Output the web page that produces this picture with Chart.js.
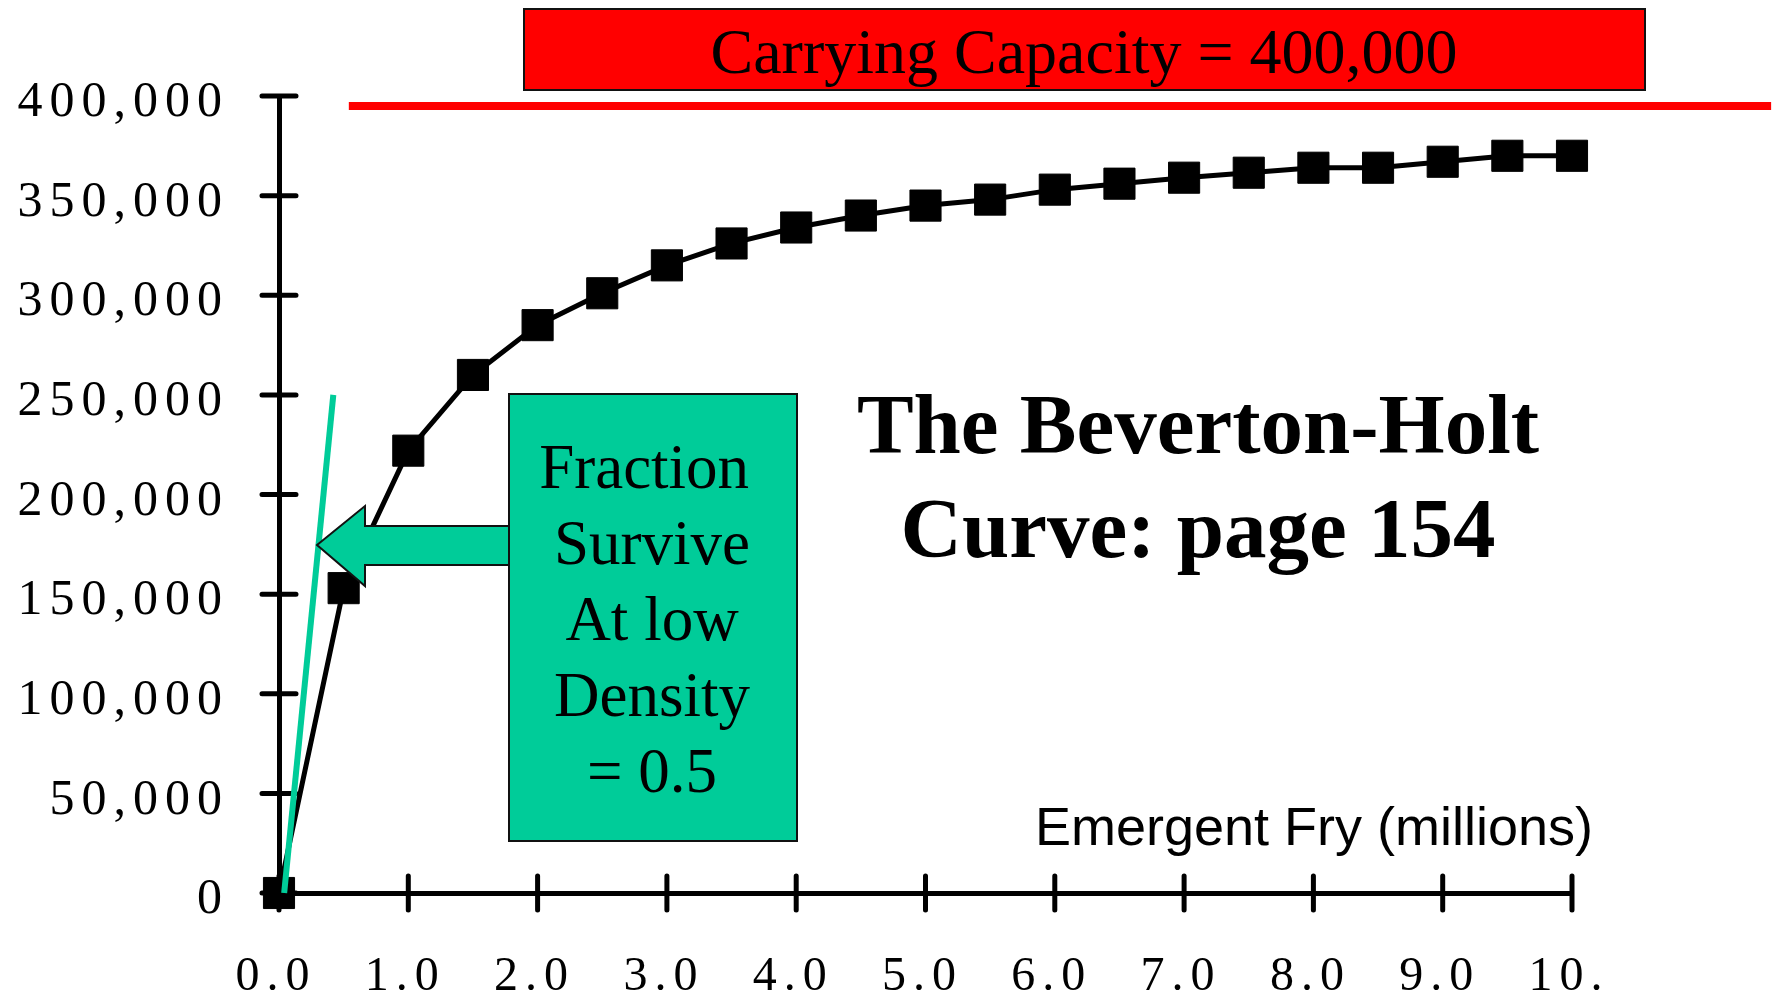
<!DOCTYPE html>
<html>
<head>
<meta charset="utf-8">
<title>The Beverton-Holt Curve</title>
<script src="https://cdn.jsdelivr.net/npm/chart.js@4.4.1/dist/chart.umd.min.js"></script>
<style>
  html, body { margin: 0; padding: 0; background: #fff; }
  #chartContainer { width: 1778px; height: 1000px; }
</style>
</head>
<body>
<div id="chartContainer"><canvas id="myChart" width="1778" height="1000"></canvas></div>
<script>
// Emergent fry (millions) vs recruits
const fryMillions = [0, 0.5, 1.0, 1.5, 2.0, 2.5, 3.0, 3.5, 4.0, 4.5, 5.0,
                     5.5, 6.0, 6.5, 7.0, 7.5, 8.0, 8.5, 9.0, 9.5, 10.0];
const recruits = [0, 153000, 222000, 260000, 285000, 301000, 315000, 326000, 334000, 340000, 345000,
                  348000, 353000, 356000, 359000, 361500, 364000, 364000, 367000, 370000, 370000];

// slope line "fraction survive at low density"
const slopeX = [0.04, 0.42];
const slopeY = [0, 250000];

// carrying capacity line (drawn a little under 400,000 on the slide)
const capacityX = [0.54, 11.54];
const capacityY = [395000, 395000];

const xTickLabels = ['0.0', '1.0', '2.0', '3.0', '4.0', '5.0', '6.0', '7.0', '8.0', '9.0', '10.'];
const yTickLabels = ['0', '50,000', '100,000', '150,000', '200,000', '250,000', '300,000', '350,000', '400,000'];

const boxLines = ['Fraction ', 'Survive', 'At low', 'Density', '= 0.5'];

const SERIF = "'Liberation Serif', 'Times New Roman', serif";
const SANS = "'Liberation Sans', Arial, sans-serif";
const GREEN = '#00CC99';

const toPoints = (xs, ys) => xs.map((x, i) => ({ x: x, y: ys[i] }));

// tick labels on the slide are letter-spaced
const spacedTicks = {
    id: 'spacedTicks',
    beforeDraw(chart) { chart.ctx.letterSpacing = '7px'; },
    beforeDatasetsDraw(chart) { chart.ctx.letterSpacing = '0px'; }
};

// tick marks that cross the axis line
const crossTicks = {
    id: 'crossTicks',
    beforeDatasetsDraw(chart) {
        const { ctx, chartArea, scales: { x, y } } = chart;
        ctx.save();
        ctx.strokeStyle = '#000';
        ctx.lineWidth = 5;
        ctx.lineCap = 'round';
        ctx.beginPath();
        y.ticks.forEach(t => {
            const py = y.getPixelForValue(t.value);
            ctx.moveTo(chartArea.left - 17, py);
            ctx.lineTo(chartArea.left + 17, py);
        });
        x.ticks.forEach(t => {
            const px = x.getPixelForValue(t.value);
            ctx.moveTo(px, chartArea.bottom - 17);
            ctx.lineTo(px, chartArea.bottom + 17);
        });
        ctx.stroke();
        ctx.restore();
    }
};

const annotations = {
    id: 'annotations',
    afterDraw(chart) {
        const ctx = chart.ctx;
        ctx.save();
        ctx.letterSpacing = '0px';

        // carrying capacity banner
        ctx.fillStyle = '#FF0000';
        ctx.strokeStyle = '#111';
        ctx.lineWidth = 2;
        ctx.fillRect(524, 9, 1121, 81);
        ctx.strokeRect(524, 9, 1121, 81);
        ctx.fillStyle = '#000';
        ctx.textAlign = 'center';
        ctx.textBaseline = 'alphabetic';
        ctx.font = '64px ' + SERIF;
        ctx.fillText('Carrying Capacity = 400,000', 1084, 73);

        // title
        ctx.font = 'bold 85px ' + SERIF;
        ctx.fillText('The Beverton-Holt', 1198, 453);
        ctx.fillText('Curve: page 154', 1198, 557);

        // arrow to the slope line
        ctx.beginPath();
        ctx.moveTo(510, 526);
        ctx.lineTo(365, 526);
        ctx.lineTo(365, 506);
        ctx.lineTo(317, 545);
        ctx.lineTo(365, 586);
        ctx.lineTo(365, 565);
        ctx.lineTo(510, 565);
        ctx.closePath();
        ctx.fillStyle = GREEN;
        ctx.fill();
        ctx.stroke();

        // green note box
        ctx.fillRect(509, 394, 288, 447);
        ctx.strokeRect(509, 394, 288, 447);
        ctx.fillStyle = '#000';
        ctx.font = '63px ' + SERIF;
        boxLines.forEach((line, i) => ctx.fillText(line, 652, 488 + i * 76));

        // x axis title
        ctx.textAlign = 'right';
        ctx.font = '54px ' + SANS;
        ctx.fillText('Emergent Fry (millions)', 1593, 845);

        ctx.restore();
    }
};

function setupChart() {
    const ctx = document.getElementById('myChart').getContext('2d');
    return new Chart(ctx, {
        type: 'line',
        data: {
            datasets: [{
                label: 'Low density survival',
                data: toPoints(slopeX, slopeY),
                borderColor: GREEN,
                borderWidth: 6,
                pointRadius: 0,
                clip: false
            }, {
                label: 'Recruits',
                data: toPoints(fryMillions, recruits),
                borderColor: '#000',
                borderWidth: 5,
                pointStyle: 'rect',
                pointRadius: 22,
                pointBackgroundColor: '#000',
                pointBorderColor: '#000',
                pointBorderWidth: 1,
                tension: 0,
                clip: false
            }, {
                label: 'Carrying capacity',
                data: toPoints(capacityX, capacityY),
                borderColor: '#FF0000',
                borderWidth: 8,
                borderCapStyle: 'butt',
                pointRadius: 0,
                clip: false
            }]
        },
        options: {
            responsive: false,
            animation: false,
            layout: { padding: { top: 96, right: 206, bottom: 0, left: 0 } },
            plugins: {
                legend: { display: false },
                tooltip: { enabled: false }
            },
            scales: {
                x: {
                    type: 'linear',
                    min: 0,
                    max: 10,
                    afterFit: s => { s.height = 107; },
                    grid: { drawOnChartArea: false, drawTicks: false },
                    border: { display: true, color: '#000', width: 5 },
                    ticks: {
                        stepSize: 1,
                        autoSkip: false,
                        maxRotation: 0,
                        padding: 56,
                        labelOffset: -3,
                        color: '#000',
                        font: { family: SERIF, size: 48 },
                        callback: (value, index) => xTickLabels[index]
                    }
                },
                y: {
                    type: 'linear',
                    min: 0,
                    max: 400000,
                    afterFit: s => { s.width = 279; },
                    grid: { drawOnChartArea: false, drawTicks: false },
                    border: { display: true, color: '#000', width: 5 },
                    ticks: {
                        stepSize: 50000,
                        padding: 50,
                        labelOffset: 7,
                        color: '#000',
                        font: { family: SERIF, size: 50 },
                        callback: (value, index) => yTickLabels[index]
                    }
                }
            }
        },
        plugins: [spacedTicks, crossTicks, annotations]
    });
}

document.addEventListener('DOMContentLoaded', setupChart);
</script>
</body>
</html>
